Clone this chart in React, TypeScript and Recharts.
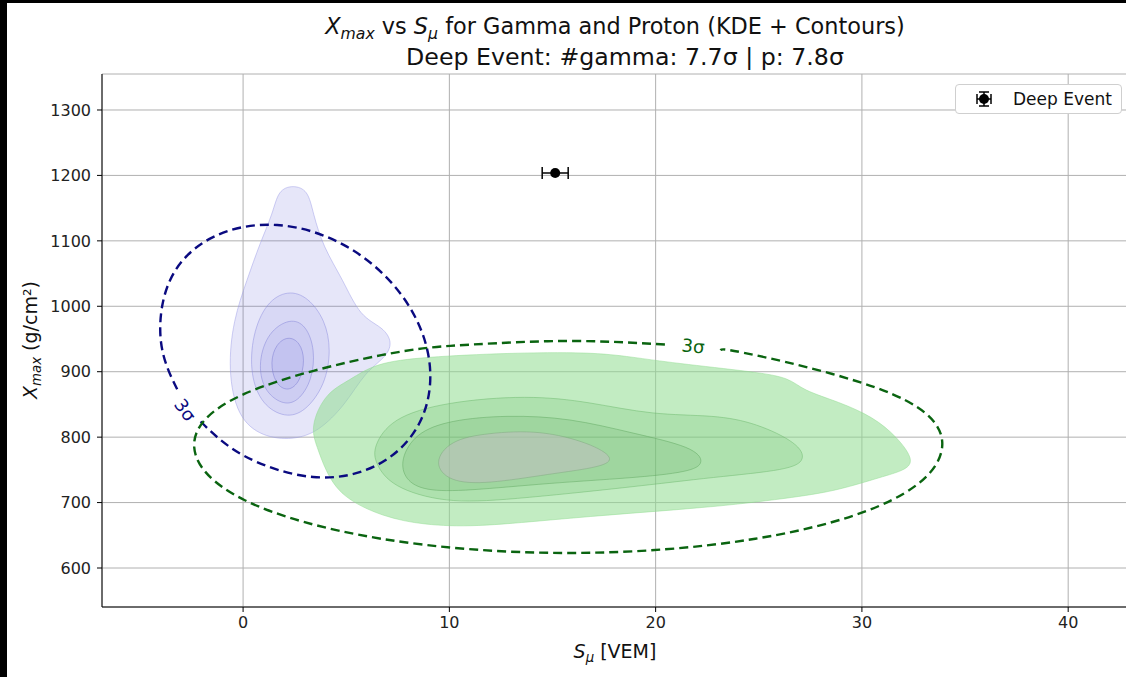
import React from 'react';
import {
  ScatterChart, Scatter, XAxis, YAxis, CartesianGrid, ErrorBar,
} from 'recharts';

// axis setup
const xTicks = [0, 10, 20, 30, 40];
const yTicks = [600, 700, 800, 900, 1000, 1100, 1200, 1300];
const xDomain = [-6.84, 42.9];
const yDomain = [540.4, 1355];

// gamma KDE levels (outer -> inner), S_mu / Xmax
const gammaLevel1 = [
  { x: 2.42, y: 1185.4 }, { x: 3.15, y: 1177.7 }, { x: 3.39, y: 1142.6 }, { x: 3.88, y: 1090.6 },
  { x: 4.85, y: 1040.2 }, { x: 5.67, y: 983.6 }, { x: 6.79, y: 968.3 }, { x: 7.27, y: 943.9 },
  { x: 6.88, y: 920.9 }, { x: 5.92, y: 899.6 }, { x: 4.95, y: 849.1 }, { x: 3.64, y: 807.9 },
  { x: 2.42, y: 795.6 }, { x: 0.92, y: 800.2 }, { x: -0.29, y: 830.8 }, { x: -0.73, y: 902.6 },
  { x: -0.48, y: 979.0 }, { x: 0.19, y: 1040.2 }, { x: 0.82, y: 1096.7 }, { x: 1.45, y: 1142.6 },
  { x: 1.7, y: 1177.7 },
];
const gammaLevel2 = [
  { x: 2.18, y: 1024.9 }, { x: 3.15, y: 1014.2 }, { x: 3.98, y: 979.0 }, { x: 4.27, y: 933.2 },
  { x: 3.98, y: 879.7 }, { x: 3.01, y: 838.4 }, { x: 2.04, y: 829.3 }, { x: 0.92, y: 849.1 },
  { x: 0.34, y: 894.9 }, { x: 0.44, y: 956.1 }, { x: 1.12, y: 1006.5 },
];
const gammaLevel3 = [
  { x: 2.28, y: 982.1 }, { x: 3.06, y: 971.4 }, { x: 3.49, y: 933.2 }, { x: 3.35, y: 887.3 },
  { x: 2.67, y: 853.7 }, { x: 1.89, y: 849.1 }, { x: 0.97, y: 872.0 }, { x: 0.73, y: 914.8 },
  { x: 1.21, y: 960.7 },
];
const gammaLevel4 = [
  { x: 2.18, y: 954.6 }, { x: 2.76, y: 945.4 }, { x: 3.01, y: 917.9 }, { x: 2.76, y: 884.3 },
  { x: 2.18, y: 869.0 }, { x: 1.55, y: 881.2 }, { x: 1.31, y: 914.8 }, { x: 1.6, y: 942.4 },
];

// proton KDE levels (outer -> inner)
const protonLevel1 = [
  { x: 3.25, y: 815.5 }, { x: 3.98, y: 867.5 }, { x: 5.19, y: 887.3 }, { x: 6.4, y: 913.3 },
  { x: 8.78, y: 922.5 }, { x: 12.8, y: 928.6 }, { x: 16.82, y: 930.1 }, { x: 18.86, y: 922.5 },
  { x: 20.85, y: 913.3 }, { x: 24.87, y: 899.6 }, { x: 26.52, y: 890.4 }, { x: 27.1, y: 872.0 },
  { x: 28.9, y: 853.7 }, { x: 30.55, y: 830.8 }, { x: 31.71, y: 800.2 }, { x: 32.53, y: 765.1 },
  { x: 32.15, y: 749.8 }, { x: 30.93, y: 739.1 }, { x: 28.9, y: 719.2 }, { x: 26.91, y: 708.5 },
  { x: 22.88, y: 693.2 }, { x: 18.86, y: 684.1 }, { x: 14.84, y: 673.4 }, { x: 11.2, y: 662.7 },
  { x: 8.78, y: 665.7 }, { x: 6.79, y: 677.9 }, { x: 4.75, y: 708.5 }, { x: 3.98, y: 749.8 },
  { x: 3.59, y: 784.9 },
];
const protonLevel2 = [
  { x: 6.3, y: 784.9 }, { x: 7.18, y: 829.3 }, { x: 9.79, y: 853.7 }, { x: 13.82, y: 864.4 },
  { x: 16.82, y: 853.7 }, { x: 19.83, y: 833.8 }, { x: 22.88, y: 833.8 }, { x: 24.87, y: 821.6 },
  { x: 26.91, y: 791.0 }, { x: 27.3, y: 765.1 }, { x: 26.47, y: 749.8 }, { x: 22.88, y: 739.1 },
  { x: 18.86, y: 723.8 }, { x: 12.8, y: 703.9 }, { x: 9.79, y: 699.3 }, { x: 7.18, y: 723.8 },
  { x: 6.4, y: 760.5 },
];
const protonLevel3 = [
  { x: 7.61, y: 765.1 }, { x: 8.34, y: 806.3 }, { x: 10.04, y: 826.2 }, { x: 12.8, y: 833.8 },
  { x: 15.85, y: 829.3 }, { x: 18.86, y: 806.3 }, { x: 21.87, y: 784.9 }, { x: 22.4, y: 760.5 },
  { x: 21.67, y: 746.7 }, { x: 18.86, y: 737.5 }, { x: 14.84, y: 729.9 }, { x: 10.81, y: 717.7 },
  { x: 8.78, y: 717.7 }, { x: 7.85, y: 734.5 },
];
const protonLevel4 = [
  { x: 9.21, y: 760.5 }, { x: 10.04, y: 795.6 }, { x: 11.83, y: 806.3 }, { x: 14.4, y: 810.9 },
  { x: 16.82, y: 791.0 }, { x: 18.04, y: 768.1 }, { x: 17.45, y: 754.4 }, { x: 14.84, y: 743.7 },
  { x: 11.83, y: 728.4 }, { x: 9.99, y: 731.4 },
];

// 3 sigma contours (open where the inline label sits)
const gammaSigma3 = [
  { x: -2.06, y: 823.9 }, { x: 0.03, y: 771.8 }, { x: 3.39, y: 739.1 }, { x: 6.53, y: 758.0 },
  { x: 8.58, y: 823.4 }, { x: 9.02, y: 917.9 }, { x: 7.71, y: 1016.0 }, { x: 5.01, y: 1091.5 },
  { x: 1.65, y: 1124.2 }, { x: -1.48, y: 1105.3 }, { x: -3.54, y: 1039.9 }, { x: -3.98, y: 945.4 },
  { x: -3.18, y: 872.2 },
];
const protonSigma3 = [
  { x: 20.45, y: 941.5 }, { x: 15.76, y: 947.0 }, { x: 11.07, y: 941.5 }, { x: 6.7, y: 925.3 },
  { x: 0.06, y: 866.0 }, { x: -2.37, y: 785.0 }, { x: 0.06, y: 704.0 }, { x: 6.7, y: 644.7 },
  { x: 15.76, y: 623.0 }, { x: 24.83, y: 644.7 }, { x: 31.46, y: 704.0 }, { x: 33.89, y: 785.0 },
  { x: 31.46, y: 866.0 }, { x: 24.83, y: 925.3 }, { x: 23.14, y: 933.0 },
];
const gammaLabel = [{ x: -2.81, y: 841.5, text: '3σ' }];
const protonLabel = [{ x: 21.82, y: 939.3, text: '3σ' }];

const deepEvent = [{ x: 15.13, y: 1203.7, xErr: 0.63 }];

const FONT = '"DejaVu Sans", sans-serif';

const noDot = () => <g />;

const blob = (data, fill, opacity, edge, key) => (
  <Scatter
    key={key}
    data={data}
    isAnimationActive={false}
    shape={noDot}
    line={{ fill, fillOpacity: opacity, stroke: edge, strokeWidth: 0.8, strokeOpacity: 0.6 }}
    lineType="joint"
    lineJointType="basisClosed"
    legendType="none"
  />
);

const labelShape = (color, angle) => (p) => (
  <text
    x={p.cx}
    y={p.cy}
    transform={`rotate(${angle} ${p.cx} ${p.cy})`}
    textAnchor="middle"
    dominantBaseline="central"
    fill={color}
    fontSize={18}
    fontFamily={FONT}
  >
    {p.payload.text}
  </text>
);

const LegendBox = () => (
  <div style={{
    position: 'absolute', left: 955, top: 84, background: '#fff', border: '1px solid #cfcfcf', borderRadius: 4,
    width: 167, height: 30, display: 'flex', alignItems: 'center', boxSizing: 'border-box',
    fontFamily: FONT, fontSize: 17, color: '#111',
  }}>
    <svg width={40} height={22} style={{ marginLeft: 8 }}>
      <line x1={13} x2={27} y1={11} y2={11} stroke="#000" strokeWidth={1.5} />
      <line x1={20} x2={20} y1={4} y2={18} stroke="#000" strokeWidth={1.5} />
      <line x1={13} x2={13} y1={6} y2={16} stroke="#000" strokeWidth={1.5} />
      <line x1={27} x2={27} y1={6} y2={16} stroke="#000" strokeWidth={1.5} />
      <line x1={15} x2={25} y1={4} y2={4} stroke="#000" strokeWidth={1.5} />
      <line x1={15} x2={25} y1={18} y2={18} stroke="#000" strokeWidth={1.5} />
      <circle cx={20} cy={11} r={5} fill="#000" />
    </svg>
    <span style={{ marginLeft: 9 }}>Deep Event</span>
  </div>
);

export default function App() {
  const tickStyle = { fill: '#222', fontSize: 16, fontFamily: FONT };
  const sub = { fontSize: '0.7em', verticalAlign: '-0.3em', lineHeight: 0 };
  return (
    <div style={{ position: 'fixed', left: 0, top: 0, width: 1126, height: 677, background: '#000', overflow: 'hidden' }}>
      <div style={{ position: 'absolute', left: 7, top: 3, width: 1130, height: 680, background: '#fff' }} />
      <div style={{ position: 'absolute', left: 0, top: 0 }}>
        <ScatterChart width={1140} height={677} margin={{ top: 74, right: 12, bottom: 40, left: 0 }}>
          <CartesianGrid stroke="#b0b0b0" strokeWidth={1} />
          <XAxis
            type="number" dataKey="x" domain={xDomain} ticks={xTicks} allowDataOverflow
            height={30} tick={tickStyle} tickSize={5} tickMargin={5}
            axisLine={{ stroke: '#000' }} tickLine={{ stroke: '#000' }}
          />
          <YAxis
            type="number" dataKey="y" domain={yDomain} ticks={yTicks} allowDataOverflow
            width={102} tick={tickStyle} tickSize={5} tickMargin={6}
            axisLine={{ stroke: '#000' }} tickLine={{ stroke: '#000' }}
          />
          <XAxis xAxisId="top" orientation="top" type="number" dataKey="x" domain={xDomain} allowDataOverflow
            height={0} tick={false} tickLine={false} axisLine={{ stroke: '#000' }} />
          {blob(gammaLevel1, '#6464dc', 0.16, '#9a9ae6', 'g1')}
          {blob(gammaLevel2, '#6464dc', 0.1, '#8a8ade', 'g2')}
          {blob(gammaLevel3, '#6464dc', 0.09, '#8080d8', 'g3')}
          {blob(gammaLevel4, '#6464dc', 0.09, '#7878d0', 'g4')}
          {blob(protonLevel1, '#8fdc8f', 0.55, '#8fdc8f', 'p1')}
          {blob(protonLevel2, '#5fb85f', 0.2, '#6cb86c', 'p2')}
          {blob(protonLevel3, '#4a9a4a', 0.15, '#5fa65f', 'p3')}
          {blob(protonLevel4, '#c0c0c0', 0.55, '#7fa67f', 'p4')}
          <Scatter
            data={gammaSigma3} isAnimationActive={false} shape={noDot} legendType="none"
            line={{ stroke: '#0a0a80', strokeWidth: 2.4, strokeDasharray: '9 5', fill: 'none' }}
            lineType="joint" lineJointType="natural"
          />
          <Scatter
            data={protonSigma3} isAnimationActive={false} shape={noDot} legendType="none"
            line={{ stroke: '#0a6410', strokeWidth: 2.4, strokeDasharray: '9 5', fill: 'none' }}
            lineType="joint" lineJointType="natural"
          />
          <Scatter data={gammaLabel} isAnimationActive={false} legendType="none" shape={labelShape('#0a0a80', 54)} />
          <Scatter data={protonLabel} isAnimationActive={false} legendType="none" shape={labelShape('#0a6410', 6)} />
          <Scatter
            data={deepEvent} isAnimationActive={false} fill="#000" name="Deep Event"
            shape={(p) => <circle cx={p.cx} cy={p.cy} r={5} fill="#000" />}
          >
            <ErrorBar dataKey="xErr" direction="x" width={6} stroke="#000" strokeWidth={1.5} />
          </Scatter>
        </ScatterChart>
      </div>
      <LegendBox />
      <div style={{ position: 'absolute', left: 0, width: 1230, top: 12, textAlign: 'center', fontFamily: FONT, fontSize: 22.4, color: '#111', lineHeight: '28px', whiteSpace: 'nowrap' }}>
        <i>X</i><i style={sub}>max</i> vs <i>S</i><i style={sub}>μ</i> for Gamma and Proton (KDE + Contours)
      </div>
      <div style={{ position: 'absolute', left: 10, width: 1230, top: 43, textAlign: 'center', fontFamily: FONT, fontSize: 23.7, color: '#111', lineHeight: '28px', whiteSpace: 'nowrap' }}>
        Deep Event: #gamma: 7.7σ | p: 7.8σ
      </div>
      <div style={{ position: 'absolute', left: 0, width: 1230, top: 638, textAlign: 'center', fontFamily: FONT, fontSize: 19, color: '#111', lineHeight: '26px' }}>
        <i>S</i><i style={sub}>μ</i> [VEM]
      </div>
      <div style={{
        position: 'absolute', left: 30, top: 340, transform: 'translate(-50%, -50%) rotate(-90deg)',
        whiteSpace: 'nowrap', fontFamily: FONT, fontSize: 19, color: '#111', lineHeight: '26px',
      }}>
        <i>X</i><i style={sub}>max</i> (g/cm²)
      </div>
    </div>
  );
}
